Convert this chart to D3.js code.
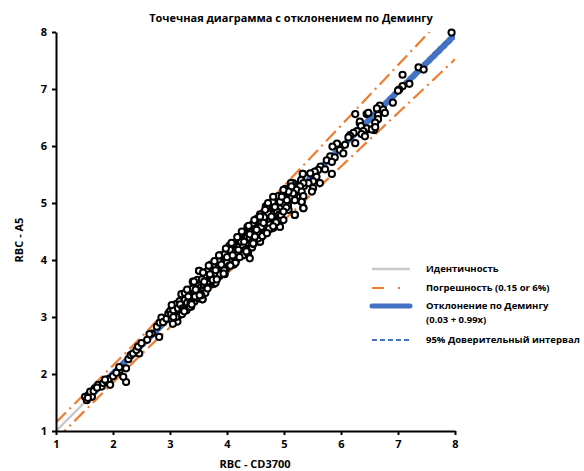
<!DOCTYPE html>
<html>
<head>
<meta charset="utf-8">
<script src="https://cdn.jsdelivr.net/npm/d3@7"></script>
<style>
  body { margin: 0; background: #fff; }
  text { font-family: 'Open Sans', sans-serif; font-weight: bold; fill: #000; }
</style>
</head>
<body>
<div id="chart"></div>
<script>
// RBC values: x = CD3700, y = A5
const cd3700 = [
  1.51, 1.54, 1.57, 1.63, 1.60, 1.68, 1.74, 1.80, 1.83, 1.89, 1.93, 1.92, 1.95, 2.23, 2.18, 2.12, 2.11, 2.23,
  2.27, 2.31, 2.35, 2.46, 2.41, 2.44, 2.50, 2.60, 2.68, 2.64, 2.81, 2.77, 2.82, 2.85, 2.88, 2.94, 3.09, 3.13,
  2.97, 3.02, 3.11, 3.14, 3.23, 3.26, 3.35, 3.47, 3.55, 3.58, 3.20, 3.09,
  3.00, 3.03, 3.05, 3.08, 3.10, 3.12, 3.15, 3.17, 3.19, 3.21, 3.23, 3.25, 3.27, 3.29, 3.31, 3.33, 3.35, 3.37,
  3.39, 3.41, 3.43, 3.45, 3.47, 3.49, 3.51, 3.51, 3.53, 3.55, 3.57, 3.57, 3.59, 3.61, 3.63, 3.65, 3.67, 3.69,
  3.71, 3.73, 3.75, 3.77, 3.79, 3.81, 3.83, 3.85, 3.87, 3.89, 3.91, 3.93, 3.95, 3.97, 3.99, 4.01, 4.03, 4.05,
  4.07, 4.09, 4.11, 4.13, 4.15, 4.17, 4.19, 4.21, 4.23, 4.25, 4.27, 4.29, 4.31, 4.33, 4.35, 4.37, 4.39, 4.41,
  4.43, 4.45, 4.47, 4.49, 4.51, 4.53, 4.55, 4.57, 4.58, 4.59, 4.61, 4.63, 4.65, 4.67, 4.69, 4.71, 4.73, 4.75,
  4.77, 4.79, 4.81, 4.81, 4.83, 4.85, 4.87, 4.89, 4.91, 4.93, 4.95, 4.97, 4.99, 5.01, 5.03, 5.05, 5.07, 5.09,
  5.11, 5.13, 5.15, 5.17, 5.19, 5.19, 5.21, 5.23, 5.25, 5.27, 5.29, 5.31, 5.33, 5.34, 5.35,
  3.02, 3.06, 3.11, 3.14, 3.18, 3.22, 3.26, 3.30, 3.34, 3.38, 3.42, 3.46, 3.50, 3.54, 3.58, 3.62, 3.66, 3.70,
  3.74, 3.78, 3.82, 3.86, 3.90, 3.94, 3.98, 4.02, 4.06, 4.10, 4.14, 4.18, 4.22, 4.26, 4.30, 4.34, 4.38, 4.42,
  4.46, 4.50, 4.54, 4.58, 4.62, 4.66, 4.70, 4.74, 4.78, 4.82, 4.86, 4.90, 4.94, 4.98, 5.02, 5.06, 5.10, 5.14,
  5.18, 5.22, 5.26, 5.30,
  3.05, 3.20, 3.35, 3.48, 3.62, 3.72, 3.80, 3.88, 3.96, 4.04, 4.12, 4.20, 4.28, 4.36, 4.44, 4.52, 4.60, 4.68,
  4.76, 4.84, 4.92, 5.00, 5.08, 5.16,
  3.51, 3.40, 4.68, 4.93, 4.81, 4.58, 4.37, 4.40, 3.88, 3.57, 3.23, 3.26, 3.06, 3.03,
  3.36, 3.40, 3.44, 3.52, 3.56, 3.60, 3.64, 3.68, 3.72, 3.76, 3.80, 3.84, 3.88, 3.92, 3.96, 4.00, 4.04, 4.08,
  4.12, 4.16, 4.20, 4.24, 4.28, 4.32, 4.36, 4.40, 4.44, 4.48, 4.52, 4.56, 4.60, 4.64, 4.68, 4.72, 4.76, 4.80,
  4.84, 4.88, 4.92, 4.96, 5.00, 5.04, 5.08, 5.12, 3.25, 3.32, 3.45, 3.55, 3.65, 3.75, 3.85, 3.95, 4.05, 4.15,
  4.25, 4.35, 4.45, 4.55, 4.65, 4.75, 4.85, 4.95, 3.90, 4.00, 4.10, 4.20, 4.30, 4.40, 4.50, 4.60, 3.70, 3.60,
  3.80, 1.56, 1.66, 1.72, 1.86, 2.00, 2.06,
  3.30, 3.42, 3.58, 3.68, 3.78, 3.86, 3.98, 4.08, 4.18, 4.26, 4.38, 4.48, 4.58, 4.70, 4.80, 4.90, 5.02, 5.12,
  3.38, 3.52, 3.66, 3.82, 3.94, 4.06, 4.22, 4.34, 4.46, 4.62, 4.74, 4.86,
  6.33, 6.46, 6.58, 6.16, 6.25, 5.93, 6.07, 5.85, 5.98, 6.04, 5.81, 5.89, 5.75, 5.84, 5.64, 5.72, 5.60, 5.54,
  5.33, 5.46, 5.84, 5.57, 5.51, 5.43, 5.63, 5.51, 5.49, 5.34, 5.28, 5.22, 5.13, 5.16, 5.08, 4.99, 5.31, 5.34,
  5.31, 5.19, 5.19, 5.34, 5.05, 4.93, 4.81, 4.96, 4.72, 4.84, 4.99, 4.78, 4.99, 4.67, 4.58, 4.81, 4.64, 4.70,
  4.52, 4.49, 4.46,
  7.36, 7.45, 7.08, 7.20, 7.08, 7.02, 7.00, 6.91, 6.25, 6.68, 6.45, 6.48, 6.63, 6.74, 6.77, 6.65, 6.65, 6.33,
  6.60, 6.35, 6.45, 6.54, 6.60, 6.28, 6.39, 6.22, 6.16, 6.36, 6.42, 6.13, 7.94
];
const a5 = [
  1.60, 1.54, 1.63, 1.60, 1.69, 1.75, 1.81, 1.78, 1.84, 1.87, 1.84, 1.91, 1.81, 1.86, 1.95, 2.07, 2.12, 2.10,
  2.26, 2.33, 2.36, 2.36, 2.42, 2.48, 2.54, 2.60, 2.71, 2.70, 2.65, 2.83, 2.90, 2.99, 2.91, 2.97, 2.92, 2.92,
  3.06, 3.12, 3.15, 3.24, 3.30, 3.21, 3.35, 3.41, 3.32, 3.44, 3.10, 3.04,
  3.10, 2.95, 3.18, 3.00, 3.22, 3.08, 3.02, 3.28, 3.15, 3.05, 3.36, 3.18, 3.25, 3.12, 3.40, 3.22, 3.30, 3.18,
  3.48, 3.35, 3.27, 3.55, 3.40, 3.33, 3.81, 3.50, 3.62, 3.45, 3.31, 3.58, 3.68, 3.50, 3.60, 3.72, 3.55, 3.65,
  3.80, 3.62, 3.72, 3.58, 3.85, 3.70, 3.78, 3.92, 3.72, 3.85, 4.00, 3.80, 3.92, 4.08, 3.85, 3.98, 4.15, 3.92,
  4.05, 4.20, 3.98, 4.10, 4.25, 4.02, 4.15, 4.30, 4.12, 4.22, 4.38, 4.18, 4.28, 4.42, 4.22, 4.35, 4.50, 4.30,
  4.40, 4.55, 4.35, 4.45, 4.60, 4.42, 4.52, 4.68, 4.32, 4.48, 4.60, 4.75, 4.55, 4.65, 4.80, 4.58, 4.70, 4.85,
  4.65, 4.75, 4.90, 4.59, 4.72, 4.82, 4.98, 4.75, 4.88, 5.02, 4.85, 4.95, 5.10, 4.90, 5.00, 5.15, 4.95, 5.05,
  5.20, 5.29, 5.10, 5.22, 4.79, 5.05, 5.25, 5.12, 5.32, 5.20, 5.35, 5.02, 5.51, 4.91, 5.30,
  3.05, 3.12, 3.00, 3.15, 3.22, 3.15, 3.30, 3.25, 3.42, 3.32, 3.45, 3.38, 3.58, 3.52, 3.50, 3.70, 3.62, 3.68,
  3.82, 3.75, 3.88, 3.80, 3.95, 3.88, 4.02, 4.05, 4.00, 4.12, 4.18, 4.10, 4.25, 4.28, 4.35, 4.30, 4.42, 4.48,
  4.42, 4.52, 4.60, 4.55, 4.68, 4.62, 4.72, 4.78, 4.82, 4.80, 4.90, 4.95, 4.92, 5.02, 5.08, 5.05, 5.12, 5.18,
  5.15, 5.28, 5.25, 5.40,
  2.88, 3.40, 3.18, 3.65, 3.42, 3.92, 3.60, 4.08, 3.75, 4.25, 3.92, 4.40, 4.08, 4.58, 4.22, 4.72, 4.40, 4.88,
  4.55, 5.05, 4.70, 5.22, 4.88, 5.35,
  3.81, 3.62, 4.94, 4.58, 4.56, 4.32, 4.12, 4.03, 3.79, 3.31, 3.12, 3.42, 3.00, 3.21,
  3.25, 3.50, 3.36, 3.42, 3.66, 3.55, 3.52, 3.78, 3.70, 3.66, 3.90, 3.85, 3.75, 3.88, 4.10, 3.95, 3.90, 4.15,
  4.05, 4.00, 4.22, 4.35, 4.25, 4.18, 4.40, 4.38, 4.32, 4.58, 4.48, 4.45, 4.65, 4.58, 4.50, 4.82, 4.70, 4.65,
  4.92, 4.85, 4.80, 5.05, 4.98, 4.92, 5.18, 5.08, 3.10, 3.36, 3.48, 3.38, 3.80, 3.65, 3.98, 3.82, 4.18, 3.95,
  4.32, 4.15, 4.62, 4.38, 4.75, 4.62, 4.95, 4.78, 3.92, 4.05, 4.08, 4.18, 4.32, 4.45, 4.55, 4.58, 3.75, 3.62,
  3.82, 1.58, 1.70, 1.76, 1.90, 1.96, 2.02,
  3.48, 3.62, 3.78, 3.90, 3.98, 4.08, 4.20, 4.30, 4.40, 4.50, 4.60, 4.70, 4.80, 4.92, 5.02, 5.12, 5.25, 5.35,
  3.22, 3.38, 3.50, 3.66, 3.76, 3.90, 4.05, 4.15, 4.28, 4.42, 4.55, 4.66,
  6.40, 6.29, 6.28, 6.19, 6.05, 6.04, 6.02, 5.99, 5.93, 5.87, 5.82, 5.80, 5.75, 5.72, 5.64, 5.59, 5.58, 5.55,
  5.51, 5.52, 5.51, 5.46, 5.38, 5.35, 5.35, 5.26, 5.20, 5.35, 5.29, 5.23, 5.29, 5.17, 5.20, 5.23, 5.20, 5.12,
  5.02, 5.05, 4.79, 4.91, 5.05, 5.02, 5.11, 5.11, 5.00, 4.93, 4.85, 4.76, 4.70, 4.88, 4.76, 4.59, 4.65, 4.47,
  4.53, 4.41, 4.29,
  7.38, 7.34, 7.25, 7.09, 7.05, 6.99, 6.97, 6.76, 6.56, 6.71, 6.56, 6.58, 6.66, 6.64, 6.58, 6.54, 6.47, 6.43,
  6.41, 6.35, 6.31, 6.29, 6.33, 6.26, 6.26, 6.23, 6.18, 6.21, 6.17, 6.15, 7.99
];

const xTicks = [1, 2, 3, 4, 5, 6, 7, 8];
const yTicks = [1, 2, 3, 4, 5, 6, 7, 8];

// Deming fit and limits
const demingIntercept = 0.03;
const demingSlope = 0.99;
const ciLow = [0.01, 0.985];
const ciHigh = [0.05, 0.995];
const errAbs = 0.15;
const errPct = 0.06;

const legendLabels = ['Идентичность', 'Погрешность (0.15 or 6%)', 'Отклонение по Демингу', '(0.03 + 0.99x)', '95%  Доверительный интервал'];

const width = 584;
const height = 471;
const margins = { top: 32, bottom: 40, left: 56, right: 129 };

const svg = d3.select('#chart').append('svg')
  .attr('width', width)
  .attr('height', height);

const xScale = d3.scaleLinear()
  .domain([1, 8])
  .range([margins.left, width - margins.right]);

const yScale = d3.scaleLinear()
  .domain([1, 8])
  .range([height - margins.bottom, margins.top]);

svg.append('defs').append('clipPath')
  .attr('id', 'plotClip')
  .append('rect')
  .attr('x', xScale(1))
  .attr('y', yScale(8))
  .attr('width', xScale(8) - xScale(1))
  .attr('height', yScale(1) - yScale(8));

const plot = svg.append('g').attr('clip-path', 'url(#plotClip)');

const line = d3.line()
  .x((d) => xScale(d[0]))
  .y((d) => yScale(d[1]));

const orange = '#ed7d31';
const blue = '#4472c4';
const dashDot = '14,5,2,5';

// identity
plot.append('path')
  .attr('d', line([[1, 1], [8, 8]]))
  .style('stroke', '#c9c9c9')
  .style('stroke-width', 2.5)
  .style('fill', 'none');

// error limits
const errX = d3.range(1, 8.001, 0.05);
const upper = errX.map((x) => [x, x + Math.max(errAbs, errPct * x)]);
const lower = errX.map((x) => [x, x - Math.max(errAbs, errPct * x)]);
[upper, lower].forEach((pts) => {
  plot.append('path')
    .attr('d', line(pts))
    .style('stroke', orange)
    .style('stroke-width', 2.2)
    .style('stroke-dasharray', dashDot)
    .style('fill', 'none');
});

// deming regression
const xMin = d3.min(cd3700);
plot.append('path')
  .attr('d', line([[xMin, demingIntercept + demingSlope * xMin], [8, demingIntercept + demingSlope * 8]]))
  .style('stroke', blue)
  .style('stroke-width', 6)
  .style('fill', 'none');

[ciLow, ciHigh].forEach((c) => {
  plot.append('path')
    .attr('d', line([[xMin, c[0] + c[1] * xMin], [8, c[0] + c[1] * 8]]))
    .style('stroke', blue)
    .style('stroke-width', 1.5)
    .style('stroke-dasharray', '4,3')
    .style('fill', 'none');
});

// points
svg.append('g')
  .selectAll('circle')
  .data(cd3700.map((x, i) => [x, a5[i]]))
  .join('circle')
  .attr('cx', (d) => xScale(d[0]))
  .attr('cy', (d) => yScale(d[1]))
  .attr('r', 3.1)
  .style('fill', '#fff')
  .style('stroke', '#000')
  .style('stroke-width', 2);

// axes
const xAxis = d3.axisBottom(xScale)
  .tickValues(xTicks)
  .tickSizeInner(4)
  .tickSizeOuter(0)
  .tickFormat(d3.format('d'));

const xAxisG = svg.append('g')
  .attr('transform', `translate(0,${yScale(1)})`)
  .call(xAxis);

const yAxis = d3.axisLeft(yScale)
  .tickValues(yTicks)
  .tickSizeInner(4)
  .tickSizeOuter(0)
  .tickFormat(d3.format('d'));

const yAxisG = svg.append('g')
  .attr('transform', `translate(${xScale(1)},0)`)
  .call(yAxis);

[xAxisG, yAxisG].forEach((g) => {
  g.select('.domain').style('stroke', '#000').style('stroke-width', 2);
  g.selectAll('.tick line').style('stroke', '#000').style('stroke-width', 2);
  g.selectAll('.tick text')
    .style('font-family', "'Open Sans', sans-serif")
    .style('font-weight', 'bold')
    .style('font-size', '11px');
});
xAxisG.selectAll('.tick text').attr('y', 9);
yAxisG.selectAll('.tick text').attr('x', -9);

// titles
svg.append('text')
  .attr('x', 291)
  .attr('y', 22)
  .style('text-anchor', 'middle')
  .style('font-size', '11px')
  .text('Точечная диаграмма с отклонением по Демингу');

svg.append('text')
  .attr('x', 255)
  .attr('y', 468)
  .style('text-anchor', 'middle')
  .style('font-size', '11px')
  .text('RBC  - CD3700');

svg.append('text')
  .attr('transform', 'translate(23,240) rotate(-90)')
  .style('text-anchor', 'middle')
  .style('font-size', '11px')
  .text('RBC  - A5');

// legend
const legend = svg.append('g').attr('transform', 'translate(372,0)');
const legendRows = [
  { y: 269, stroke: '#c9c9c9', w: 2.5, dash: null },
  { y: 288, stroke: orange, w: 2.2, dash: '12,14,2,20' },
  { y: 306, stroke: blue, w: 5, dash: null },
  { y: 340, stroke: blue, w: 1.8, dash: '5,3' }
];
legendRows.forEach((r) => {
  legend.append('line')
    .attr('x1', 0).attr('x2', 38)
    .attr('y1', r.y).attr('y2', r.y)
    .style('stroke', r.stroke)
    .style('stroke-width', r.w)
    .style('stroke-linecap', r.w > 4 ? 'round' : 'butt')
    .style('stroke-dasharray', r.dash);
});
const legendTextY = [272, 291, 309, 323, 343];
legendLabels.forEach((t, i) => {
  legend.append('text')
    .attr('x', 54)
    .attr('y', legendTextY[i])
    .style('font-size', '9.5px')
    .text(t);
});
</script>
</body>
</html>
